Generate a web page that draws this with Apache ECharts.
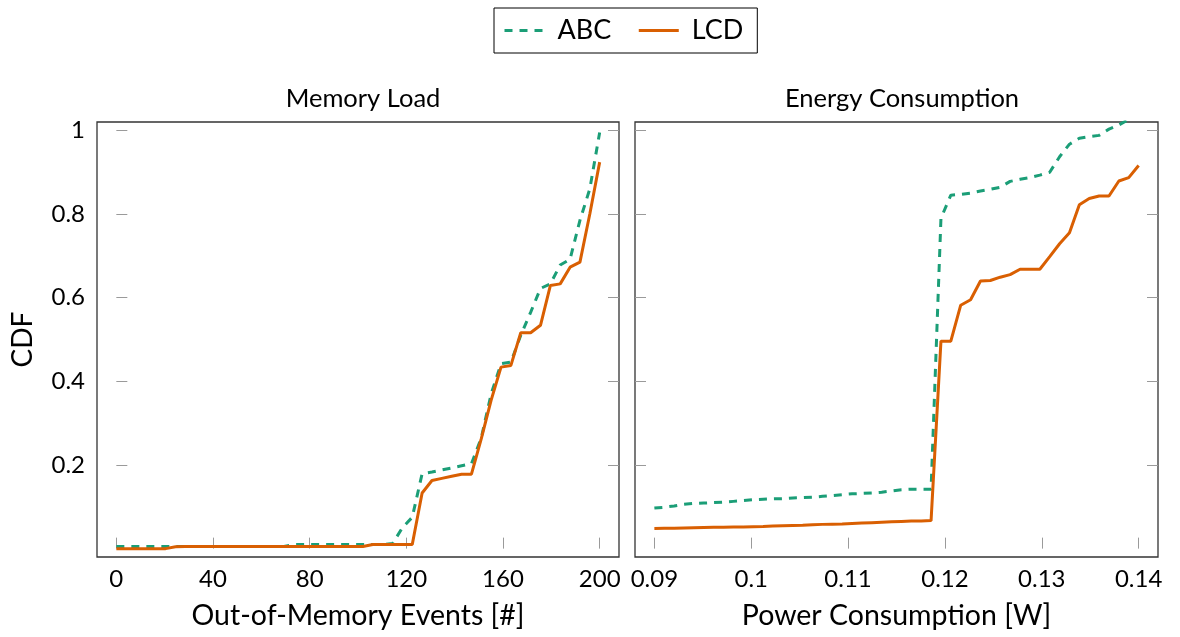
<!DOCTYPE html>
<html>
<head>
<meta charset="utf-8">
<script src="https://cdn.jsdelivr.net/npm/echarts@6/dist/echarts.min.js"></script>
<style>
html,body{margin:0;padding:0;background:#fff;}
#chart{width:1180px;height:637px;}
</style>
</head>
<body>
<div id="chart"></div>
<script>
// ---- data ----
const seriesNames = ['ABC', 'LCD'];
const panelTitles = ['Memory Load', 'Energy Consumption'];
const xAxisNames = ['Out-of-Memory Events [#]', 'Power Consumption [W]'];
const yAxisName = 'CDF';
const yTicks = [0.2, 0.4, 0.6, 0.8, 1];
const xTicksLeft = [0, 40, 80, 120, 160, 200];
const xTicksRight = [0.09, 0.10, 0.11, 0.12, 0.13, 0.14];

const xLeft = [0, 4.08, 8.16, 12.24, 16.33, 20.41, 24.49, 28.57, 32.65, 36.73,
  40.82, 44.90, 48.98, 53.06, 57.14, 61.22, 65.31, 69.39, 73.47, 77.55,
  81.63, 85.71, 89.80, 93.88, 97.96, 102.04, 106.12, 110.20, 114.29, 118.37,
  122.45, 126.53, 130.61, 134.69, 138.78, 142.86, 146.94, 151.02, 155.10, 159.18,
  163.27, 167.35, 171.43, 175.51, 179.59, 183.67, 187.76, 191.84, 195.92, 200];
const abcLeft = [0.005, 0.005, 0.005, 0.005, 0.005, 0.005, 0.005, 0.005, 0.005, 0.005,
  0.005, 0.005, 0.005, 0.005, 0.005, 0.005, 0.005, 0.005, 0.01, 0.01,
  0.01, 0.01, 0.01, 0.01, 0.01, 0.01, 0.01, 0.01, 0.012, 0.05,
  0.075, 0.179, 0.183, 0.188, 0.193, 0.198, 0.203, 0.265, 0.37, 0.442,
  0.446, 0.51, 0.565, 0.622, 0.633, 0.678, 0.692, 0.785, 0.86, 0.995];
const lcdLeft = [0, 0, 0, 0, 0, 0, 0.0045, 0.005, 0.005, 0.005,
  0.005, 0.005, 0.005, 0.005, 0.005, 0.005, 0.005, 0.005, 0.005, 0.005,
  0.005, 0.005, 0.005, 0.005, 0.005, 0.005, 0.01, 0.01, 0.01, 0.01,
  0.01, 0.133, 0.163, 0.168, 0.173, 0.178, 0.178, 0.263, 0.355, 0.434,
  0.438, 0.516, 0.516, 0.534, 0.629, 0.633, 0.673, 0.685, 0.80, 0.924];

const xRight = [0.09, 0.09102, 0.09204, 0.09306, 0.09408, 0.09510, 0.09612, 0.09714, 0.09816, 0.09918,
  0.10020, 0.10122, 0.10224, 0.10327, 0.10429, 0.10531, 0.10633, 0.10735, 0.10837, 0.10939,
  0.11041, 0.11143, 0.11245, 0.11347, 0.11449, 0.11551, 0.11653, 0.11755, 0.11857, 0.11959,
  0.12061, 0.12163, 0.12265, 0.12367, 0.12469, 0.12571, 0.12673, 0.12776, 0.12878, 0.12980,
  0.13082, 0.13184, 0.13286, 0.13388, 0.13490, 0.13592, 0.13694, 0.13796, 0.13898, 0.14];
const abcRight = [0.097, 0.099, 0.102, 0.106, 0.108, 0.109, 0.110, 0.111, 0.113, 0.115,
  0.117, 0.118, 0.119, 0.1195, 0.121, 0.122, 0.123, 0.125, 0.127, 0.129,
  0.131, 0.132, 0.133, 0.135, 0.138, 0.141, 0.142, 0.142, 0.142, 0.79,
  0.845, 0.847, 0.85, 0.855, 0.859, 0.864, 0.878, 0.883, 0.887, 0.893,
  0.9, 0.937, 0.967, 0.981, 0.985, 0.988, 1.003, 1.013, 1.026, 1.04];
const lcdRight = [0.048, 0.0485, 0.049, 0.0495, 0.050, 0.0505, 0.051, 0.051, 0.0515, 0.052,
  0.0525, 0.053, 0.054, 0.055, 0.0555, 0.056, 0.057, 0.058, 0.0585, 0.059,
  0.060, 0.061, 0.062, 0.063, 0.064, 0.065, 0.066, 0.066, 0.067, 0.496,
  0.496, 0.582, 0.595, 0.64, 0.641, 0.649, 0.655, 0.668, 0.668, 0.668,
  0.698, 0.729, 0.755, 0.822, 0.837, 0.843, 0.843, 0.879, 0.887, 0.916];

// ---- styling ----
const FONT = 'Lato';
const GREEN = '#1b9e77';
const ORANGE = '#d95f02';
const TICK = '#9a9a9a';

const pairs = (xs, ys) => xs.map((x, i) => [x, ys[i]]);

function yAx(gridIndex, right) {
  return {
    type: 'value', gridIndex, position: right ? 'right' : 'left',
    min: -0.02, max: 1.02,
    name: (!right && gridIndex === 0) ? yAxisName : '',
    nameLocation: 'middle', nameGap: 60, nameRotate: 90,
    nameTextStyle: {fontFamily: FONT, fontSize: 28, color: '#000'},
    axisLine: {show: false},
    splitLine: {show: false},
    axisTick: {show: true, inside: true, length: 11, lineStyle: {color: TICK, width: 1}, customValues: yTicks},
    axisLabel: {show: (!right && gridIndex === 0), customValues: yTicks, margin: 12,
      fontFamily: FONT, fontSize: 24, color: '#000',
      formatter: v => (Math.abs(v - 1) < 1e-9 ? '1' : v.toFixed(1))}
  };
}
function xAx(gridIndex, min, max, ticks, name, fmt) {
  return {
    type: 'value', gridIndex, min, max, position: 'bottom',
    name, nameLocation: 'middle', nameGap: 44,
    nameTextStyle: {fontFamily: FONT, fontSize: 28.5, color: '#000'},
    axisLine: {show: false},
    splitLine: {show: false},
    axisTick: {show: true, inside: true, length: 11, lineStyle: {color: TICK, width: 1}, customValues: ticks},
    axisLabel: {customValues: ticks, margin: 10, fontFamily: FONT, fontSize: 24, color: '#000', formatter: fmt}
  };
}

const chart = echarts.init(document.getElementById('chart'), null, {renderer: 'canvas'});
const line = (name, xi, yi, data, color, dashed) => ({
  name, type: 'line', xAxisIndex: xi, yAxisIndex: yi, data,
  symbol: 'none', showSymbol: false, clip: true,
  lineStyle: {color, width: 3, type: dashed ? [8, 7] : 'solid'},
  itemStyle: {color}
});

chart.setOption({
  animation: false,
  backgroundColor: '#fff',
  title: [
    {text: panelTitles[0], left: 358, top: 81, textAlign: 'center',
      textStyle: {fontFamily: FONT, fontSize: 25.5, fontWeight: 'normal', color: '#000'}},
    {text: panelTitles[1], left: 897, top: 81, textAlign: 'center',
      textStyle: {fontFamily: FONT, fontSize: 25.5, fontWeight: 'normal', color: '#000'}}
  ],
  legend: {
    data: seriesNames, left: 494, top: 8,
    padding: [9, 14, 9, 9],
    borderColor: '#000', borderWidth: 1,
    itemWidth: 40, itemHeight: 14, itemGap: 26,
    itemStyle: {opacity: 0},
    lineStyle: {width: 3},
    textStyle: {fontFamily: FONT, fontSize: 27, color: '#000', padding: [0, 0, 0, 8]}
  },
  grid: [
    {left: 97, top: 122, width: 522, height: 435, show: true, borderColor: '#333', borderWidth: 1.3, backgroundColor: 'transparent'},
    {left: 635, top: 122, width: 523, height: 435, show: true, borderColor: '#333', borderWidth: 1.3, backgroundColor: 'transparent'}
  ],
  xAxis: [
    xAx(0, -8, 208, xTicksLeft, xAxisNames[0], v => String(v)),
    xAx(1, 0.088, 0.142, xTicksRight, xAxisNames[1], v => String(parseFloat(v.toFixed(2))))
  ],
  yAxis: [yAx(0, false), yAx(0, true), yAx(1, false), yAx(1, true)],
  series: [
    line(seriesNames[0], 0, 0, pairs(xLeft, abcLeft), GREEN, true),
    line(seriesNames[1], 0, 0, pairs(xLeft, lcdLeft), ORANGE, false),
    line(seriesNames[0], 1, 2, pairs(xRight, abcRight), GREEN, true),
    line(seriesNames[1], 1, 2, pairs(xRight, lcdRight), ORANGE, false)
  ]
});
</script>
</body>
</html>
